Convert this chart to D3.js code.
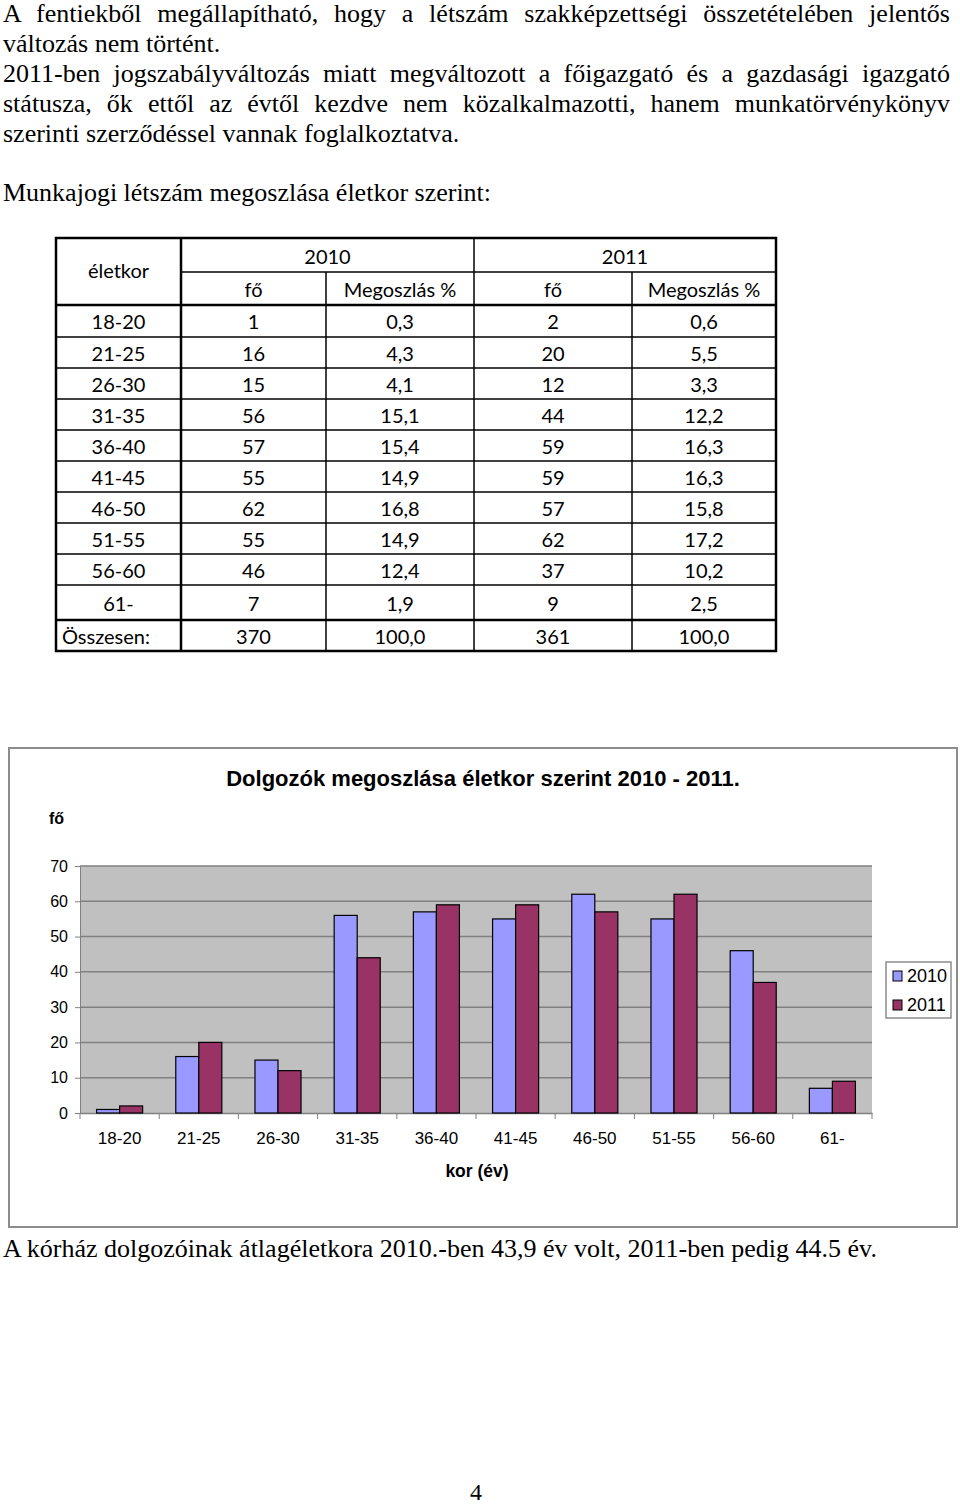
<!DOCTYPE html>
<html>
<head>
<meta charset="utf-8">
<script src="https://cdn.jsdelivr.net/npm/d3@7"></script>
<style>
  body { margin: 0; background: #fff; }
  svg { display: block; }
</style>
</head>
<body>
<div id="page"></div>
<script>
// table + chart data
var ageGroups = ["18-20", "21-25", "26-30", "31-35", "36-40", "41-45", "46-50", "51-55", "56-60", "61-"];
var count2010 = [1, 16, 15, 56, 57, 55, 62, 55, 46, 7];
var pct2010 = ["0,3", "4,3", "4,1", "15,1", "15,4", "14,9", "16,8", "14,9", "12,4", "1,9"];
var count2011 = [2, 20, 12, 44, 59, 59, 57, 62, 37, 9];
var pct2011 = ["0,6", "5,5", "3,3", "12,2", "16,3", "16,3", "15,8", "17,2", "10,2", "2,5"];
var totalRow = ["Összesen:", "370", "100,0", "361", "100,0"];
var years = ["2010", "2011"];
var yTicks = [0, 10, 20, 30, 40, 50, 60, 70];

var introLines = [
    {text: "A fentiekből megállapítható, hogy a létszám szakképzettségi összetételében jelentős", full: true},
    {text: "változás nem történt.", full: false},
    {text: "2011-ben jogszabályváltozás miatt megváltozott a főigazgató és a gazdasági igazgató", full: true},
    {text: "státusza, ők ettől az évtől kezdve nem közalkalmazotti, hanem munkatörvénykönyv", full: true},
    {text: "szerinti szerződéssel vannak foglalkoztatva.", full: false}
];

var serif = "'Liberation Serif', 'Times New Roman', serif";
var sans = "'Liberation Sans', Arial, sans-serif";
var tableFont = "Lato, 'Open Sans', sans-serif";

var svg = d3.select("#page")
    .append("svg")
    .attr("width", 960)
    .attr("height", 1505);

// paragraph text; full lines justified by spreading the word gaps
var lineWidth = 947;
svg.selectAll(".intro")
    .data(introLines)
    .enter()
    .append("text")
    .attr("class", "intro")
    .attr("x", 3)
    .attr("y", (d, i) => 22 + i * 30)
    .attr("font-family", serif)
    .attr("font-size", 26)
    .text(d => d.text)
    .each(function(d) {
        if (!d.full) return;
        var natural = this.getComputedTextLength();
        var gaps = d.text.split(" ").length - 1;
        d3.select(this).attr("word-spacing", (lineWidth - natural) / gaps);
    });

svg.append("text")
    .attr("x", 3)
    .attr("y", 201)
    .attr("font-family", serif)
    .attr("font-size", 26)
    .text("Munkajogi létszám megoszlása életkor szerint:");

// ---- table ----
var colX = [56, 181, 326, 474, 632, 776];
var rowY = [238, 272, 305, 337, 368, 399, 430, 461, 492, 523, 554, 585, 620, 651];
var table = svg.append("g").attr("font-family", tableFont).attr("font-size", 20).attr("fill", "#000");

var lineAttrs = function(sel) {
    return sel.attr("stroke", "#000").attr("stroke-width", 1.5);
};

// outer border
table.append("rect")
    .attr("x", colX[0]).attr("y", rowY[0])
    .attr("width", colX[5] - colX[0]).attr("height", rowY[13] - rowY[0])
    .attr("fill", "none").attr("stroke", "#000").attr("stroke-width", 2.5);

// vertical lines
lineAttrs(table.append("line").attr("x1", colX[1]).attr("x2", colX[1]).attr("y1", rowY[0]).attr("y2", rowY[13])).attr("stroke-width", 2.5);
[2, 4].forEach(function(c) {
    lineAttrs(table.append("line").attr("x1", colX[c]).attr("x2", colX[c]).attr("y1", rowY[1]).attr("y2", rowY[13]));
});
lineAttrs(table.append("line").attr("x1", colX[3]).attr("x2", colX[3]).attr("y1", rowY[0]).attr("y2", rowY[13]));

// horizontal lines
lineAttrs(table.append("line").attr("x1", colX[1]).attr("x2", colX[5]).attr("y1", rowY[1]).attr("y2", rowY[1]));
for (var r = 2; r < 13; r++) {
    var l = lineAttrs(table.append("line").attr("x1", colX[0]).attr("x2", colX[5]).attr("y1", rowY[r]).attr("y2", rowY[r]));
    if (r === 2 || r === 12) l.attr("stroke-width", 2.5);
}

function cellText(txt, c, r, anchor) {
    var x = anchor === "start" ? colX[c] + 6 : (colX[c] + colX[c + 1]) / 2;
    table.append("text")
        .attr("x", x)
        .attr("y", (rowY[r] + rowY[r + 1]) / 2 + 8)
        .attr("text-anchor", anchor || "middle")
        .text(txt);
}

table.append("text")
    .attr("x", (colX[0] + colX[1]) / 2).attr("y", 278)
    .attr("text-anchor", "middle").text("életkor");
table.append("text")
    .attr("x", (colX[1] + colX[3]) / 2).attr("y", 264)
    .attr("text-anchor", "middle").text(years[0]);
table.append("text")
    .attr("x", (colX[3] + colX[5]) / 2).attr("y", 264)
    .attr("text-anchor", "middle").text(years[1]);
["fő", "Megoszlás %", "fő", "Megoszlás %"].forEach(function(h, i) {
    cellText(h, i + 1, 1);
});

ageGroups.forEach(function(a, i) {
    var r = i + 2;
    cellText(a, 0, r);
    cellText(count2010[i], 1, r);
    cellText(pct2010[i], 2, r);
    cellText(count2011[i], 3, r);
    cellText(pct2011[i], 4, r);
});
totalRow.forEach(function(t, i) {
    cellText(t, i, 12, i === 0 ? "start" : "middle");
});

// ---- chart ----
svg.append("rect")
    .attr("x", 9).attr("y", 748)
    .attr("width", 948).attr("height", 479)
    .attr("fill", "#fff").attr("stroke", "#8c8c8c").attr("stroke-width", 2);

svg.append("text")
    .attr("x", 483).attr("y", 786)
    .attr("text-anchor", "middle")
    .attr("font-family", sans).attr("font-weight", "bold").attr("font-size", 22)
    .text("Dolgozók megoszlása életkor szerint 2010 - 2011.");

svg.append("text")
    .attr("x", 49).attr("y", 824)
    .attr("font-family", sans).attr("font-weight", "bold").attr("font-size", 16)
    .text("fő");

var plot = {left: 80, right: 872, top: 866, bottom: 1113};

var x = d3.scaleBand()
    .domain(ageGroups)
    .range([plot.left, plot.right]);

var xInner = d3.scaleBand()
    .domain(years)
    .range([0, x.bandwidth()])
    .paddingInner(0)
    .paddingOuter(0.72);

var y = d3.scaleLinear()
    .domain([0, 70])
    .range([plot.bottom, plot.top]);

svg.append("rect")
    .attr("x", plot.left).attr("y", plot.top)
    .attr("width", plot.right - plot.left).attr("height", plot.bottom - plot.top)
    .attr("fill", "#c0c0c0");

// gridlines
svg.append("g")
    .selectAll("line")
    .data(yTicks.slice(1))
    .enter()
    .append("line")
    .attr("x1", plot.left).attr("x2", plot.right)
    .attr("y1", d => y(d)).attr("y2", d => y(d))
    .attr("stroke", "#808080").attr("stroke-width", 1.5);

// y axis
var yAxis = svg.append("g")
    .attr("transform", `translate(${plot.left},0)`)
    .call(d3.axisLeft(y).tickValues(yTicks).tickSize(5).tickPadding(7));
yAxis.selectAll("text").attr("font-family", sans).attr("font-size", 16).attr("fill", "#000");
yAxis.selectAll("line, path").attr("stroke", "#808080");

// x axis
var xAxis = svg.append("g")
    .attr("transform", `translate(0,${plot.bottom})`)
    .call(d3.axisBottom(x).tickSize(0).tickPadding(19));
xAxis.select("path").attr("stroke", "#808080").attr("stroke-width", 1.5);
xAxis.selectAll("text").attr("font-family", sans).attr("font-size", 17).attr("fill", "#000");
xAxis.selectAll(".boundTick")
    .data(ageGroups.concat(["end"]))
    .enter()
    .append("line")
    .attr("class", "boundTick")
    .attr("x1", (d, i) => plot.left + i * x.step())
    .attr("x2", (d, i) => plot.left + i * x.step())
    .attr("y1", 0).attr("y2", 6)
    .attr("stroke", "#808080");

svg.append("text")
    .attr("x", 477).attr("y", 1177)
    .attr("text-anchor", "middle")
    .attr("font-family", sans).attr("font-weight", "bold").attr("font-size", 17.5)
    .text("kor (év)");

// bars
var colors = {"2010": "#9999ff", "2011": "#993366"};
var barData = [];
ageGroups.forEach(function(a, i) {
    barData.push({group: a, year: "2010", value: count2010[i]});
    barData.push({group: a, year: "2011", value: count2011[i]});
});

svg.append("g")
    .selectAll("rect")
    .data(barData)
    .enter()
    .append("rect")
    .attr("x", d => x(d.group) + xInner(d.year))
    .attr("y", d => y(d.value))
    .attr("width", xInner.bandwidth())
    .attr("height", d => y(0) - y(d.value))
    .attr("fill", d => colors[d.year])
    .attr("stroke", "#000")
    .attr("stroke-width", 1.2);

// legend
var legend = svg.append("g").attr("transform", "translate(886,962)");
legend.append("rect")
    .attr("width", 65).attr("height", 56)
    .attr("fill", "#fff").attr("stroke", "#8c8c8c").attr("stroke-width", 1.5);
years.forEach(function(yr, i) {
    legend.append("rect")
        .attr("x", 7).attr("y", 9 + i * 29)
        .attr("width", 9).attr("height", 10)
        .attr("fill", colors[yr]).attr("stroke", "#000");
    legend.append("text")
        .attr("x", 21).attr("y", 20 + i * 29)
        .attr("font-family", sans).attr("font-size", 18)
        .text(yr);
});

// closing sentence and page number
svg.append("text")
    .attr("x", 3).attr("y", 1257)
    .attr("font-family", serif).attr("font-size", 26)
    .text("A kórház dolgozóinak átlagéletkora 2010.-ben 43,9 év volt, 2011-ben pedig 44.5 év.");

svg.append("text")
    .attr("x", 476).attr("y", 1500)
    .attr("text-anchor", "middle")
    .attr("font-family", serif).attr("font-size", 24)
    .text("4");
</script>
</body>
</html>
